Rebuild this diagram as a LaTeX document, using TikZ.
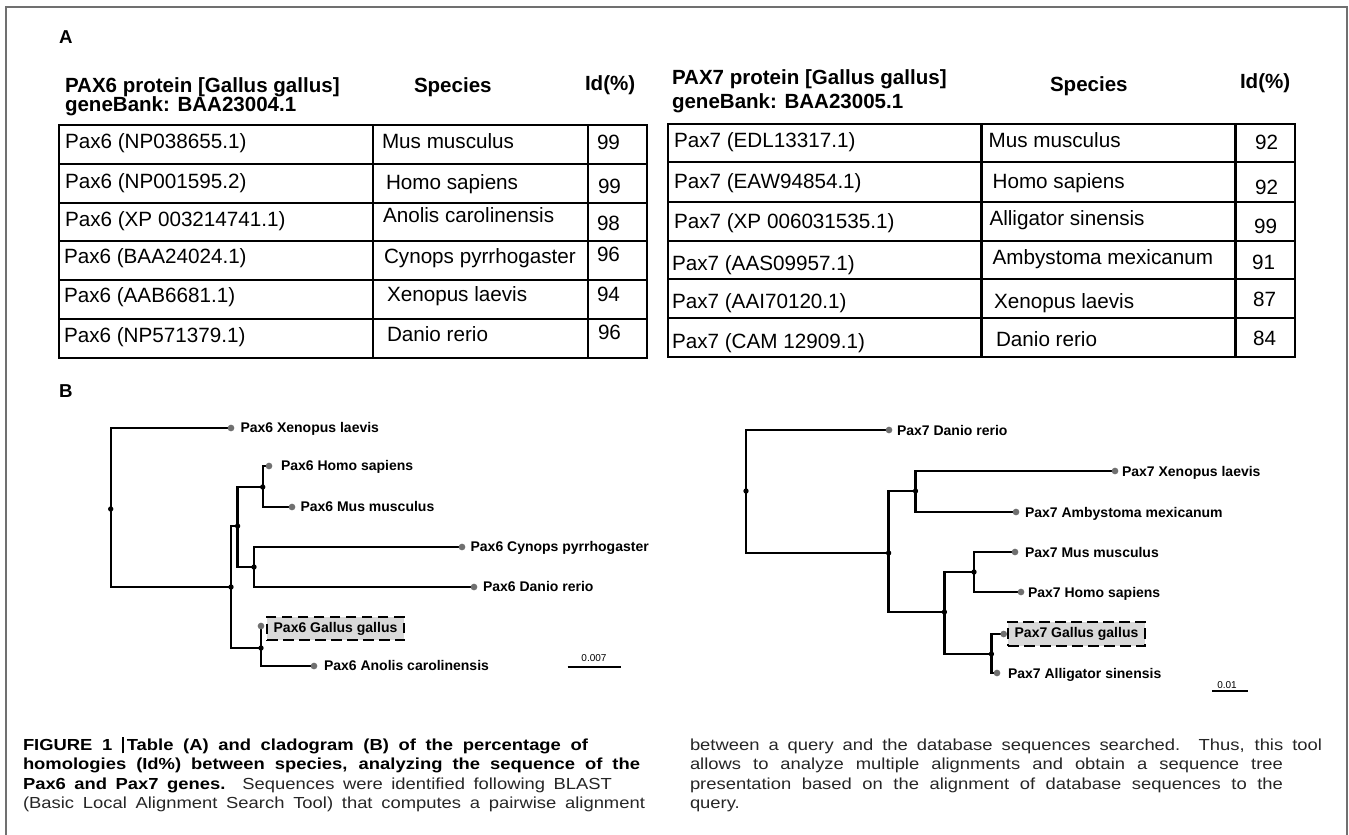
\documentclass[tikz,border=0pt]{standalone}
\usepackage{fontspec}
\setmainfont{Liberation Sans}
\newfontfamily\capfont{Liberation Sans}[FakeStretch=1.15]
\usetikzlibrary{backgrounds}
\definecolor{leafgray}{HTML}{707070}
\definecolor{boxgray}{HTML}{D9D9D9}
\definecolor{framegray}{HTML}{707070}
\definecolor{captextgray}{HTML}{262626}
\begin{document}
\begin{tikzpicture}[x=0.75pt,y=-0.75pt,
  every node/.style={inner sep=0pt,outer sep=0pt},
  cell/.style={anchor=base west,font=\fontsize{15.5}{15.5}\selectfont},
  hdr/.style={anchor=base west,font=\bfseries\fontsize{15.4}{15.4}\selectfont},
  panel/.style={anchor=base west,font=\bfseries\fontsize{14}{14}\selectfont},
  tline/.style={line width=1.9pt},
  branch/.style={line width=1.8pt,line join=miter},
  leafdot/.style={circle,fill=leafgray,minimum size=5pt},
  inode/.style={circle,fill=black,minimum size=4pt},
  lab/.style={anchor=base west,font=\bfseries\fontsize{10.5}{10.5}\selectfont},
  gbox/.style={draw,line width=1.8pt,dash pattern=on 8pt off 4pt,fill=boxgray,
    font=\bfseries\fontsize{10.5}{10.5}\selectfont,minimum width=102.75pt,minimum height=17.5pt},
  scl/.style={anchor=base,font=\fontsize{7.5}{7.5}\selectfont},
  captxt/.style={anchor=base west,text=captextgray,font=\capfont\fontsize{12}{12}\selectfont},
]
\begin{scope}[on background layer]
\fill[white] (0,0) rectangle (1349,835);
\end{scope}
\useasboundingbox (0,0) rectangle (1349,835);
% frame
\draw[framegray,line width=1.1pt] (6,835) -- (6,7) -- (1347,7) -- (1347,835);

% panel letters
\node[panel] (pA) at (59,43) {A};
\node[panel] (pB) at (59,397) {B};

% ---------- left table ----------
\node[hdr] (lh1) at (65,92) {PAX6 protein [Gallus gallus]};
\node[hdr] (lh2) at (65,111) {geneBank: BAA23004.1};
\node[hdr] (lh3) at (414,92) {Species};
\node[hdr] (lh4) at (585,90) {Id(\%)};
\draw[tline] (59,125) rectangle (647,358);
\foreach \y in {164,203,241,280,319} \draw[tline] (59,\y) -- (647,\y);
\draw[tline] (373,125) -- (373,358);
\draw[tline] (588,125) -- (588,358);

\node[cell] at (65,148) {Pax6 (NP038655.1)};
\node[cell] at (65,188) {Pax6 (NP001595.2)};
\node[cell] at (65,226) {Pax6 (XP 003214741.1)};
\node[cell] at (64,263) {Pax6 (BAA24024.1)};
\node[cell] at (64,302) {Pax6 (AAB6681.1)};
\node[cell] at (64,342) {Pax6 (NP571379.1)};
\node[cell] at (382,148) {Mus musculus};
\node[cell] at (386,189) {Homo sapiens};
\node[cell] at (383,222) {Anolis carolinensis};
\node[cell] at (384,263) {Cynops pyrrhogaster};
\node[cell] at (387,301) {Xenopus laevis};
\node[cell] at (387,341) {Danio rerio};
\node[cell] at (597,149) {99};
\node[cell] at (598,193) {99};
\node[cell] at (597,230) {98};
\node[cell] at (597,261) {96};
\node[cell] at (597,301) {94};
\node[cell] at (598,339) {96};

% ---------- right table ----------
\node[hdr] (rh1) at (672,84) {PAX7 protein [Gallus gallus]};
\node[hdr] (rh2) at (672,108) {geneBank: BAA23005.1};
\node[hdr] (rh3) at (1050,91) {Species};
\node[hdr] (rh4) at (1240,88) {Id(\%)};
\draw[tline] (668,124) rectangle (1295,357);
\foreach \y in {162,202,241,279,318} \draw[tline] (668,\y) -- (1295,\y);
\draw[tline] (981.6,124) -- (981.6,357);
\draw[tline] (1235.6,124) -- (1235.6,357);

\node[cell] at (674,147) {Pax7 (EDL13317.1)};
\node[cell] at (674,188) {Pax7 (EAW94854.1)};
\node[cell] at (674,228) {Pax7 (XP 006031535.1)};
\node[cell] at (672,270) {Pax7 (AAS09957.1)};
\node[cell] at (672,308) {Pax7 (AAI70120.1)};
\node[cell] at (672,348) {Pax7 (CAM 12909.1)};
\node[cell] at (988.6,147) {Mus musculus};
\node[cell] at (992.6,188) {Homo sapiens};
\node[cell] at (989.5,225) {Alligator sinensis};
\node[cell] at (992.6,264) {Ambystoma mexicanum};
\node[cell] at (994,308) {Xenopus laevis};
\node[cell] at (996,346) {Danio rerio};
\node[cell] at (1255,149) {92};
\node[cell] at (1255,194) {92};
\node[cell] at (1254,233) {99};
\node[cell] at (1252,269) {91};
\node[cell] at (1253,306) {87};
\node[cell] at (1253,345) {84};

% ---------- left tree ----------
\node[inode] (Lr) at (110.7,509) {};
\node[leafdot] (Lxen) at (231,428) {};
\node[inode] (L1) at (231,587) {};
\node[inode] (L2) at (237.6,526) {};
\node[inode] (L3) at (262.7,487) {};
\node[leafdot] (Lhom) at (269,466) {};
\node[leafdot] (Lmus) at (292,507) {};
\node[inode] (L4) at (254,567) {};
\node[leafdot] (Lcyn) at (462,547) {};
\node[leafdot] (Ldan) at (474,587) {};
\node[inode] (L5) at (261,648) {};
\node[leafdot] (Lgal) at (261,626) {};
\node[leafdot] (Lano) at (314,666) {};
\begin{scope}[on background layer]
\draw[branch] (Lr.center) |- (Lxen.center);
\draw[branch] (Lr.center) |- (L1.center);
\draw[branch] (L1.center) |- (L2.center);
\draw[branch] (L1.center) |- (L5.center);
\draw[branch] (L2.center) |- (L3.center);
\draw[branch] (L2.center) |- (L4.center);
\draw[branch] (L3.center) |- (Lhom.center);
\draw[branch] (L3.center) |- (Lmus.center);
\draw[branch] (L4.center) |- (Lcyn.center);
\draw[branch] (L4.center) |- (Ldan.center);
\draw[branch] (L5.center) -- (Lgal.center);
\draw[branch] (L5.center) |- (Lano.center);
\end{scope}
\node[lab] (tLxen) at (240.5,432) {Pax6 Xenopus laevis};
\node[lab] (tLhom) at (281,470) {Pax6 Homo sapiens};
\node[lab] (tLmus) at (300.5,511) {Pax6 Mus musculus};
\node[lab] (tLcyn) at (470.6,551) {Pax6 Cynops pyrrhogaster};
\node[lab] (tLdan) at (483,591) {Pax6 Danio rerio};
\node[gbox] (tLgal) at (335.5,628.5) {Pax6 Gallus gallus};
\node[lab] (tLano) at (324,670) {Pax6 Anolis carolinensis};
\coordinate (sLa) at (567.6,667);
\coordinate (sLb) at (620.5,667);
\draw[line width=1.9pt] (sLa) -- (sLb);
\node[scl] (sLt) at (594,661) {0.007};

% ---------- right tree ----------
\node[inode] (Rr) at (746,491) {};
\node[leafdot] (Rdan) at (889,430) {};
\node[inode] (R1) at (888.6,553) {};
\node[inode] (R2) at (915.5,491) {};
\node[leafdot] (Rxen) at (1115,471) {};
\node[leafdot] (Ramb) at (1016,512) {};
\node[inode] (R3) at (944.4,612) {};
\node[inode] (R4) at (974,572) {};
\node[leafdot] (Rmus) at (1015,552) {};
\node[leafdot] (Rhom) at (1021,592) {};
\node[inode] (R5) at (991.4,654) {};
\node[leafdot] (Rgal) at (1003.7,634) {};
\node[leafdot] (Rall) at (997,673) {};
\begin{scope}[on background layer]
\draw[branch] (Rr.center) |- (Rdan.center);
\draw[branch] (Rr.center) |- (R1.center);
\draw[branch] (R1.center) |- (R2.center);
\draw[branch] (R1.center) |- (R3.center);
\draw[branch] (R2.center) |- (Rxen.center);
\draw[branch] (R2.center) |- (Ramb.center);
\draw[branch] (R3.center) |- (R4.center);
\draw[branch] (R3.center) |- (R5.center);
\draw[branch] (R4.center) |- (Rmus.center);
\draw[branch] (R4.center) |- (Rhom.center);
\draw[branch] (R5.center) |- (Rgal.center);
\draw[branch] (R5.center) |- (Rall.center);
\end{scope}
\node[lab] (tRdan) at (897,435) {Pax7 Danio rerio};
\node[lab] (tRxen) at (1122,476) {Pax7 Xenopus laevis};
\node[lab] (tRamb) at (1025,517) {Pax7 Ambystoma mexicanum};
\node[lab] (tRmus) at (1025,557) {Pax7 Mus musculus};
\node[lab] (tRhom) at (1028,597) {Pax7 Homo sapiens};
\node[gbox,minimum height=18pt] (tRgal) at (1076.5,634) {Pax7 Gallus gallus};
\node[lab] (tRall) at (1008,678) {Pax7 Alligator sinensis};
\coordinate (sRa) at (1212,691);
\coordinate (sRb) at (1248,691);
\draw[line width=1.2pt] (sRa) -- (sRb);
\node[scl] (sRt) at (1227,688) {0.01};

% ---------- caption ----------
\node[captxt,text=black] (c1) at (23,750) {\makebox[423.75pt][s]{\bfseries FIGURE 1 \rule[-2.5pt]{1.6pt}{12.5pt}\hspace{2pt}Table (A) and cladogram (B) of the percentage of}};
\node[captxt,text=black] (c2) at (23,769.5) {\makebox[462.75pt][s]{\bfseries homologies (Id\%) between species, analyzing the sequence of the}};
\node[captxt] (c3) at (23,789) {\makebox[441.75pt][s]{\textcolor{black}{\bfseries Pax6 and Pax7 genes.} Sequences were identified following BLAST}};
\node[captxt] (c4) at (23,808) {\makebox[466.5pt][s]{(Basic Local Alignment Search Tool) that computes a pairwise alignment}};
\node[captxt] (c5) at (690,750) {\makebox[474pt][s]{between a query and the database sequences searched. Thus, this tool}};
\node[captxt] (c6) at (690,769.5) {\makebox[444.75pt][s]{allows to analyze multiple alignments and obtain a sequence tree}};
\node[captxt] (c7) at (690,789) {\makebox[444.75pt][s]{presentation based on the alignment of database sequences to the}};
\node[captxt] (c8) at (690,808) {query.};
\end{tikzpicture}
\end{document}
